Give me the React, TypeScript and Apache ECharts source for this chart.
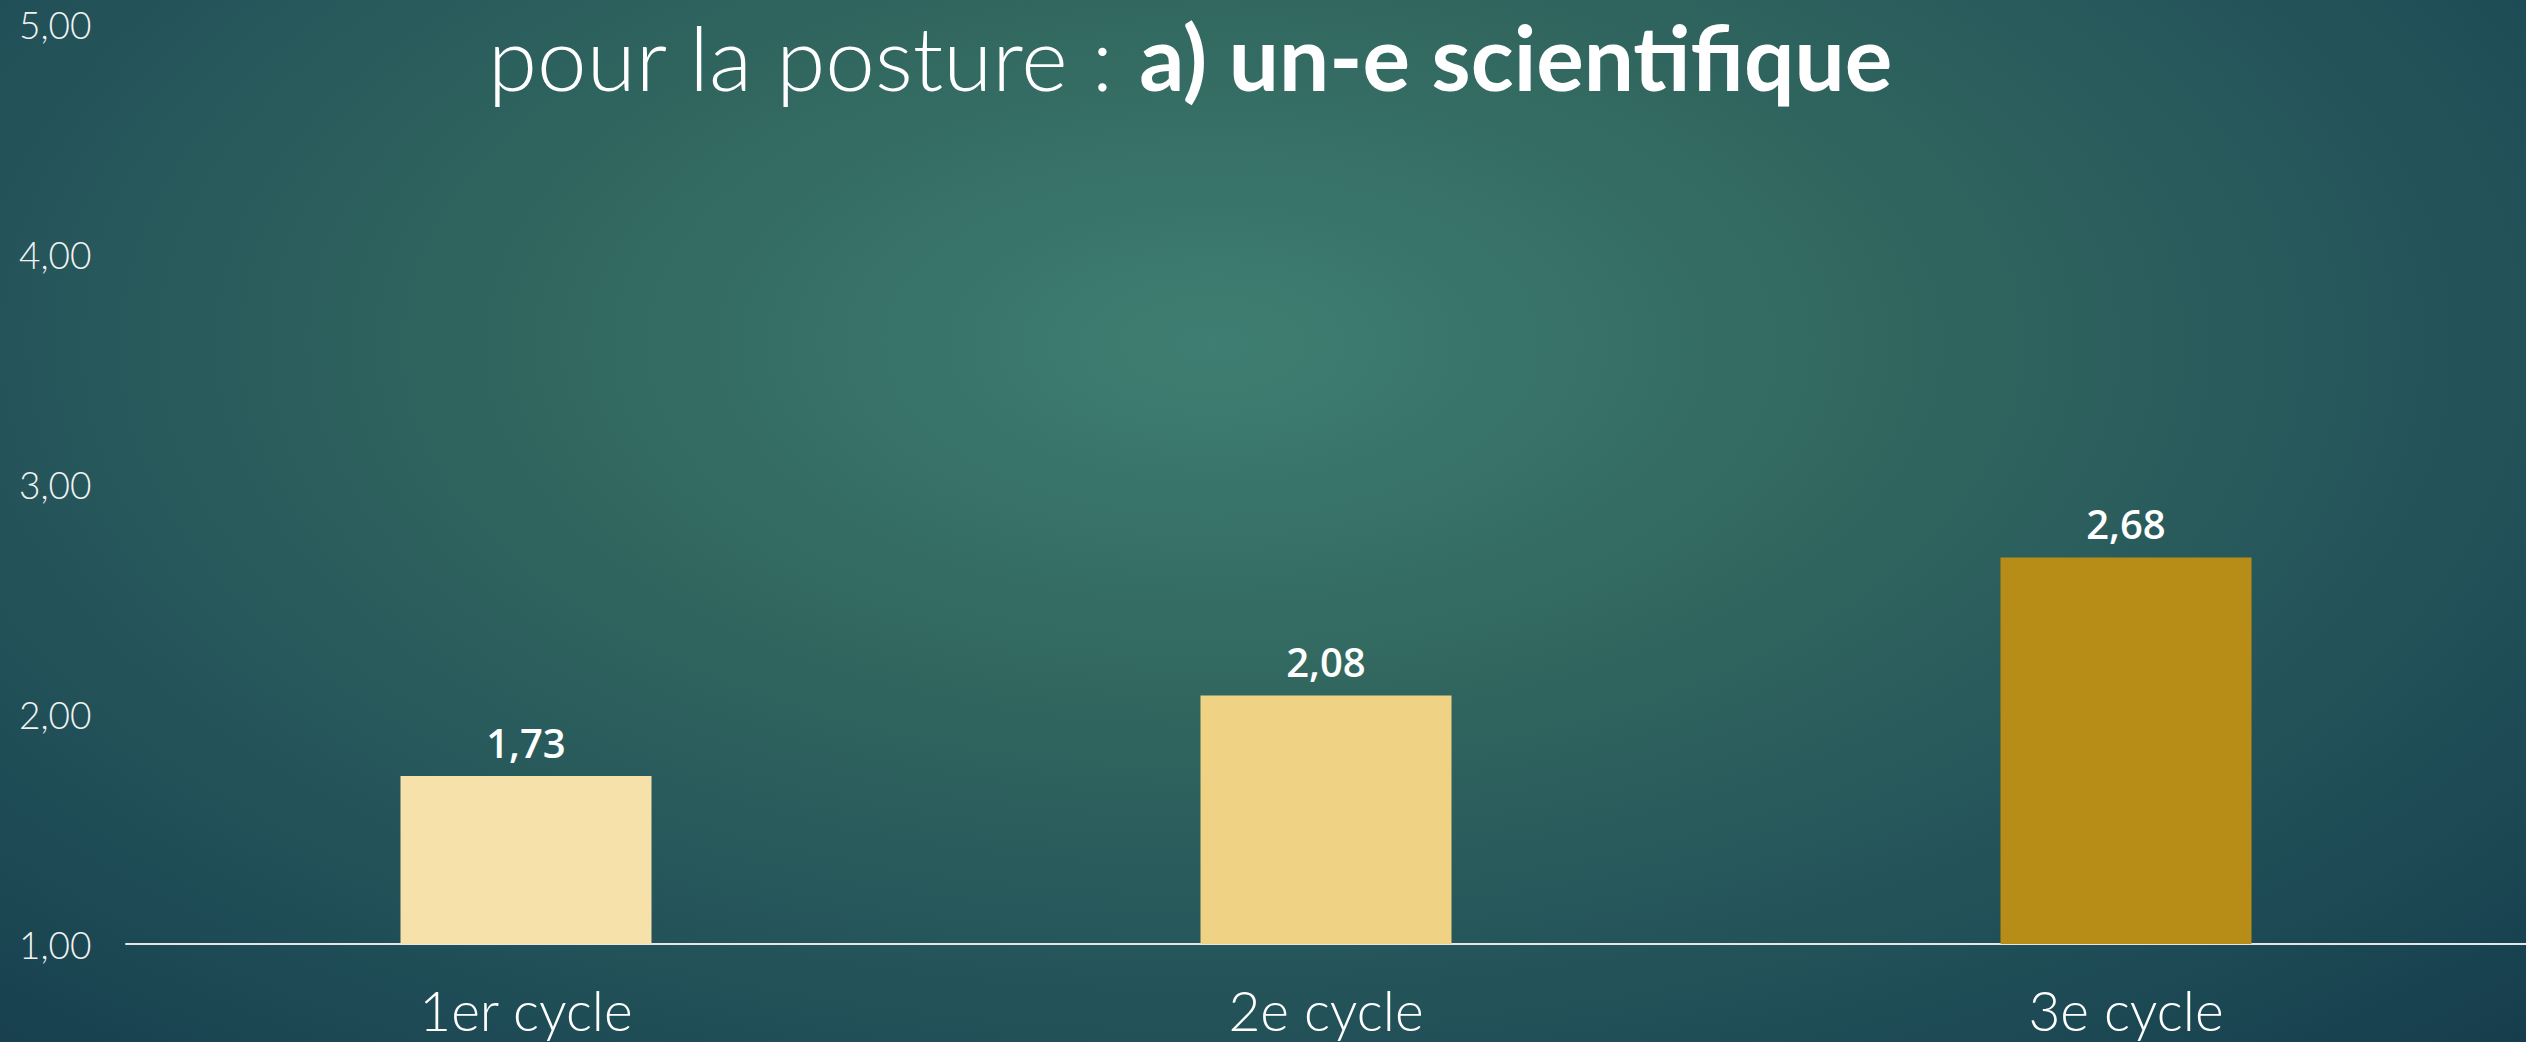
import React, { useEffect, useRef } from "react";
import * as echarts from "echarts";

const categories = ["1er cycle", "2e cycle", "3e cycle"];
const values = [1.73, 2.08, 2.68];
const barColors = ["#f5e1a9", "#efd283", "#b78d17"];
const yTicks = [1, 2, 3, 4, 5];
const titleLight = "pour la posture : ";
const titleBold = "a) un-e scientifique";

const fmt = (v: number) => v.toFixed(2).replace(".", ",");

export default function App() {
  const ref = useRef<HTMLDivElement>(null);
  useEffect(() => {
    document.body.style.margin = "0";
    const chart = echarts.init(ref.current!, null, { renderer: "svg" });
    chart.setOption({
      animation: false,
      backgroundColor: "transparent",
      title: {
        text: `{n|${titleLight}}{b|${titleBold}}`,
        left: 488,
        top: 8,
        padding: 0,
        textStyle: {
          rich: {
            n: { fontFamily: "Lato", fontWeight: 300, fontSize: 89, lineHeight: 96, color: "#ffffff" },
            b: { fontFamily: "Lato", fontWeight: "bold", fontSize: 89, lineHeight: 96, color: "#ffffff" },
          },
        },
      },
      grid: { left: 126, right: 0, top: 24, bottom: 98, containLabel: false },
      xAxis: {
        type: "category",
        data: categories,
        axisLine: { show: true, lineStyle: { color: "#e6e6e6", width: 2 } },
        axisTick: { show: false },
        axisLabel: {
          color: "#ffffff",
          fontFamily: "Lato",
          fontWeight: 300,
          fontSize: 55,
          lineHeight: 55,
          margin: 38,
        },
      },
      yAxis: {
        type: "value",
        min: yTicks[0],
        max: yTicks[yTicks.length - 1],
        interval: 1,
        splitLine: { show: false },
        axisLine: { show: false },
        axisTick: { show: false },
        axisLabel: {
          color: "#f2f2f2",
          fontFamily: "Lato",
          fontWeight: 300,
          fontSize: 37,
          align: "left",
          margin: 107,
          formatter: (v: number) => fmt(v),
        },
      },
      series: [
        {
          type: "bar",
          barWidth: 251,
          data: values.map((v, i) => ({ value: v, itemStyle: { color: barColors[i] } })),
          label: {
            show: true,
            position: "top",
            distance: 14,
            color: "#ffffff",
            fontFamily: "Open Sans",
            fontWeight: 600,
            fontSize: 40,
            formatter: (p: any) => fmt(p.value),
          },
        },
      ],
    });
    return () => chart.dispose();
  }, []);
  return (
    <div
      ref={ref}
      style={{
        position: "absolute",
        left: 0,
        top: 0,
        width: 2526,
        height: 1042,
        background:
          "radial-gradient(ellipse 75% 95% at 48% 33%, #3f7e72 0%, #31675f 35%, #24545a 65%, #1b4753 85%, #163c4b 100%)",
      }}
    />
  );
}
